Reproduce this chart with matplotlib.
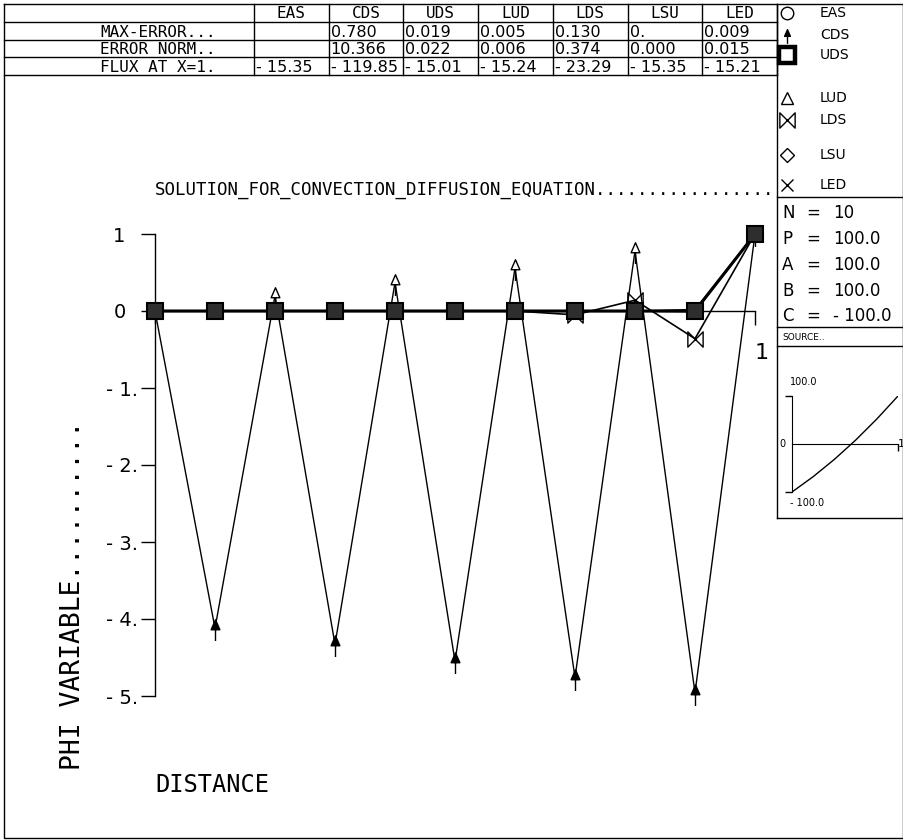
import matplotlib
matplotlib.use('Agg')
import matplotlib.pyplot as plt
from matplotlib.path import Path
import numpy as np

# ---- data ----
distance = [0.0, 0.1, 0.2, 0.3, 0.4, 0.5, 0.6, 0.7, 0.8, 0.9, 1.0]
eas = [0.0, 0.0, 0.0, 0.0, 0.0, 0.0, 0.0, 0.0, 0.0, 0.0, 1.0]
cds = [0.0, -4.12, 0.2, -4.33, 0.37, -4.55, 0.56, -4.76, 0.78, -4.96, 1.0]
uds = [0.0, 0.0, 0.0, 0.0, 0.0, 0.0, 0.0, 0.0, 0.0, 0.0, 1.0]
lud = [0.0, 0.0, 0.0, 0.0, 0.0, 0.0, 0.0, 0.0, 0.0, -0.01, 1.0]
lds = [0.0, 0.0, 0.0, 0.0, 0.0, 0.0, 0.0, -0.05, 0.14, -0.36, 1.0]
lsu = [0.0, 0.0, 0.0, 0.0, 0.0, 0.0, 0.0, 0.0, 0.0, 0.0, 1.0]
led = [0.0, 0.0, 0.0, 0.0, 0.0, 0.0, 0.0, 0.0, 0.0, 0.02, 1.0]

methods = ['EAS', 'CDS', 'UDS', 'LUD', 'LDS', 'LSU', 'LED']
row_labels = ['MAX-ERROR...', 'ERROR NORM..', 'FLUX AT X=1.']
max_error = ['', '0.780', '0.019', '0.005', '0.130', '0.', '0.009']
error_norm = ['', '10.366', '0.022', '0.006', '0.374', '0.000', '0.015']
flux = ['- 15.35', '- 119.85', '- 15.01', '- 15.24', '- 23.29', '- 15.35', '- 15.21']

params = [('N', '10'), ('P', '100.0'), ('A', '100.0'), ('B', '100.0'), ('C', '- 100.0')]

src_x = [0.0, 0.1, 0.2, 0.3, 0.4, 0.5, 0.6, 0.7, 0.8, 0.9, 1.0]
src_y = [-100, -84, -68, -50, -32, -12, 8, 30, 52, 76, 100]

yticks = [-5, -4, -3, -2, -1, 0, 1]
ytick_labels = ['- 5.', '- 4.', '- 3.', '- 2.', '- 1.', '0  ', '1  ']

MONO = 'DejaVu Sans Mono'
SANS = 'DejaVu Sans'

W, H = 904, 840
fig = plt.figure(figsize=(W / 100, H / 100), dpi=100)


def px_axes(x0, y0, x1, y1):
    return fig.add_axes([x0 / W, 1 - y1 / H, (x1 - x0) / W, (y1 - y0) / H])


# overlay in pixel coords for frame, table, legend boxes
ov = fig.add_axes([0, 0, 1, 1])
ov.set_xlim(0, W)
ov.set_ylim(H, 0)
ov.axis('off')

# markers
arrow = Path([(0, 0.7), (-0.35, -0.1), (0.35, -0.1), (0, 0.7), (0, -0.1), (0, -1.0)],
             [Path.MOVETO, Path.LINETO, Path.LINETO, Path.CLOSEPOLY, Path.MOVETO, Path.LINETO])
bowtie = Path([(-1, -1), (1, 1), (1, -1), (-1, 1), (-1, -1)],
              [Path.MOVETO, Path.LINETO, Path.LINETO, Path.LINETO, Path.CLOSEPOLY])

styles = {
    'EAS': dict(marker='o', ms=9, mfc='none', lw=1),
    'CDS': dict(marker=arrow, ms=18, mfc='none', lw=1),
    'UDS': dict(marker='s', ms=12, mfc='#2e2e2e', mew=1.5, lw=2.2),
    'LUD': dict(marker='^', ms=9, mfc='none', lw=1),
    'LDS': dict(marker=bowtie, ms=11, mfc='none', lw=1.2),
    'LSU': dict(marker='D', ms=7, mfc='none', lw=1),
    'LED': dict(marker='x', ms=9, lw=1),
}
series = {'EAS': eas, 'CDS': cds, 'UDS': uds, 'LUD': lud, 'LDS': lds, 'LSU': lsu, 'LED': led}

# outer frame
ov.plot([4, 903, 903, 4, 4], [4, 4, 838, 838, 4], color='k', lw=1)

# table
col_x = np.linspace(254, 777, len(methods) + 1)
row_y = [4, 22, 40, 57, 75]
for y in row_y[1:]:
    ov.plot([4, 777], [y, y], color='k', lw=1)
for x in col_x:
    ov.plot([x, x], [4, 75], color='k', lw=1)
for i, m in enumerate(methods):
    ov.text((col_x[i] + col_x[i + 1]) / 2, row_y[1] - 1, m, ha='center', va='bottom',
            fontsize=11.5, family=MONO)
for r, (lab, vals) in enumerate(zip(row_labels, [max_error, error_norm, flux])):
    yb = row_y[r + 2]
    ov.text(100, yb, lab, ha='left', va='bottom', fontsize=11.5, family=MONO)
    for i, v in enumerate(vals):
        ov.text(col_x[i] + 2, yb, v, ha='left', va='bottom', fontsize=11.5, family=SANS)

# right panel boxes
ov.plot([777, 777], [4, 518], color='k', lw=1)
for y in [197, 327, 346, 518]:
    ov.plot([777, 903], [y, y], color='k', lw=1)

# legend
leg_y = [13, 35, 55, 98, 120, 155, 185]
for m, y in zip(methods, leg_y):
    st = dict(styles[m])
    st.pop('lw')
    if m == 'UDS':
        st.update(mfc='white', mew=3.2, ms=11)
    if m == 'CDS':
        st.update(mfc='k', ms=12)
    ov.plot([787], [y], color='k', ls='none', clip_on=False, **st)
    ov.text(820, y, m, ha='left', va='center', fontsize=10, family=SANS)

# parameters
for (name, val), y in zip(params, [213, 239, 265, 291, 316]):
    ov.text(782, y, name, ha='left', va='center', fontsize=12, family=SANS)
    ov.text(806, y, '=', ha='left', va='center', fontsize=12, family=SANS)
    ov.text(833, y, val, ha='left', va='center', fontsize=12, family=SANS)
ov.text(782, 337, 'SOURCE..', ha='left', va='center', fontsize=6.5, family=SANS)

# main plot
ax = px_axes(155, 234, 755, 696)
ax.set_xlim(0, 1)
ax.set_ylim(-5, 1)
ax.patch.set_alpha(0)
for sp in ['top', 'right']:
    ax.spines[sp].set_visible(False)
ax.spines['bottom'].set_position(('data', 0))
ax.spines['bottom'].set_linewidth(1)
ax.spines['left'].set_linewidth(1)
ax.set_xticks([1])
ax.set_xticklabels([''])
ax.tick_params(axis='x', direction='out', length=10, width=1)
ax.set_yticks(yticks)
ax.set_yticklabels(ytick_labels, family=SANS, fontsize=14)
ax.tick_params(axis='y', direction='out', length=10, width=1, pad=2)

order = ['CDS', 'EAS', 'LUD', 'LSU', 'LED', 'LDS', 'UDS']
for z, m in enumerate(order):
    st = dict(styles[m])
    if m == 'CDS':
        # line only, markers below: filled at the troughs, open at the peaks
        ax.plot(distance, series[m], color='k', lw=1, clip_on=False, zorder=3)
        ax.plot(distance[1::2], series[m][1::2], color='k', ls='none', marker=arrow,
                ms=st['ms'], mfc='k', clip_on=False, zorder=3)
        ax.plot(distance[0::2], series[m][0::2], color='k', ls='none', marker=arrow,
                ms=st['ms'], mfc='white', clip_on=False, zorder=3)
        continue
    ax.plot(distance, series[m], color='k', clip_on=False, zorder=3 + z, **st)

ax.text(1.0, -0.55, '1', ha='left', va='center', fontsize=16, family=SANS)

ov.text(155, 190, 'SOLUTION_FOR_CONVECTION_DIFFUSION_EQUATION.................',
        ha='left', va='center', fontsize=12.5, family=MONO)
ov.text(73, 770, 'PHI VARIABLE..........', rotation=90, ha='center', va='bottom',
        fontsize=19, family=MONO)
ov.text(155, 785, 'DISTANCE', ha='left', va='center', fontsize=17, family=MONO)

# source inset
ins = px_axes(792, 396, 898, 492)
ins.set_xlim(0, 1)
ins.set_ylim(-100, 100)
ins.patch.set_alpha(0)
for sp in ['top', 'right']:
    ins.spines[sp].set_visible(False)
ins.spines['bottom'].set_position(('data', 0))
ins.set_xticks([1])
ins.set_xticklabels([''])
ins.set_yticks([-100, 100])
ins.set_yticklabels(['', ''])
ins.tick_params(direction='out', length=5, width=1)
ins.plot(src_x, src_y, color='k', lw=1)
ins.text(-0.02, 118, '100.0', ha='left', va='bottom', fontsize=7, family=SANS)
ins.text(-0.02, -112, '- 100.0', ha='left', va='top', fontsize=7, family=SANS)
ins.text(-0.06, 0, '0', ha='right', va='center', fontsize=7, family=SANS)
ins.text(1.0, 0, '1', ha='left', va='center', fontsize=8, family=SANS)

fig.savefig('out.png', dpi=100)
